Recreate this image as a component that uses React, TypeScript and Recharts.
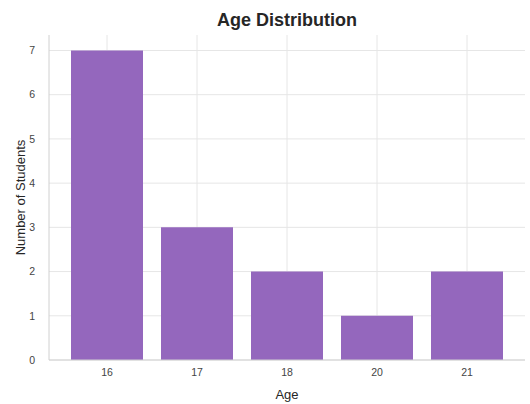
import React from "react";
import { BarChart, Bar, XAxis, YAxis, CartesianGrid } from "recharts";

const ages = ["16", "17", "18", "20", "21"];
const counts = [7, 3, 2, 1, 2];
const yTicks = [0, 1, 2, 3, 4, 5, 6, 7];

const data = ages.map((age, i) => ({ age, count: counts[i] }));

const FONT = "'Liberation Sans', Arial, sans-serif";

export default function App() {
  return (
    <div style={{ position: "absolute", left: 0, top: 0, width: 530, height: 404, background: "#fff" }}>
      <div
        style={{
          position: "absolute",
          left: 49,
          width: 476,
          top: 10,
          textAlign: "center",
          fontFamily: FONT,
          fontWeight: "bold",
          fontSize: 18,
          color: "#262626",
          lineHeight: "20px",
        }}
      >
        Age Distribution
      </div>
      <BarChart
        width={530}
        height={404}
        data={data}
        margin={{ top: 35, right: 5, left: 0, bottom: 0 }}
        barCategoryGap="10%"
      >
        <CartesianGrid stroke="#e6e6e6" strokeWidth={1} vertical={true} horizontal={true} syncWithTicks />
        <XAxis
          dataKey="age"
          height={44}
          padding={{ left: 13, right: 13 }}
          tickLine={false}
          tickSize={0}
          tickMargin={9}
          axisLine={{ stroke: "#d0d0d0" }}
          tick={{ fill: "#444", fontSize: 10.5, fontFamily: FONT }}
          label={{ value: "Age", position: "insideBottom", offset: 5, fill: "#262626", fontSize: 13, fontFamily: FONT }}
        />
        <YAxis
          width={49}
          domain={[0, 7.35]}
          ticks={yTicks}
          allowDataOverflow
          tickLine={false}
          tickSize={0}
          tickMargin={14}
          axisLine={{ stroke: "#d0d0d0" }}
          tick={{ fill: "#444", fontSize: 10.5, fontFamily: FONT }}
          label={{ value: "Number of Students", angle: -90, position: "center", dx: -4, fill: "#262626", fontSize: 13, fontFamily: FONT }}
        />
        <Bar dataKey="count" fill="#9467bd" isAnimationActive={false} />
      </BarChart>
    </div>
  );
}
